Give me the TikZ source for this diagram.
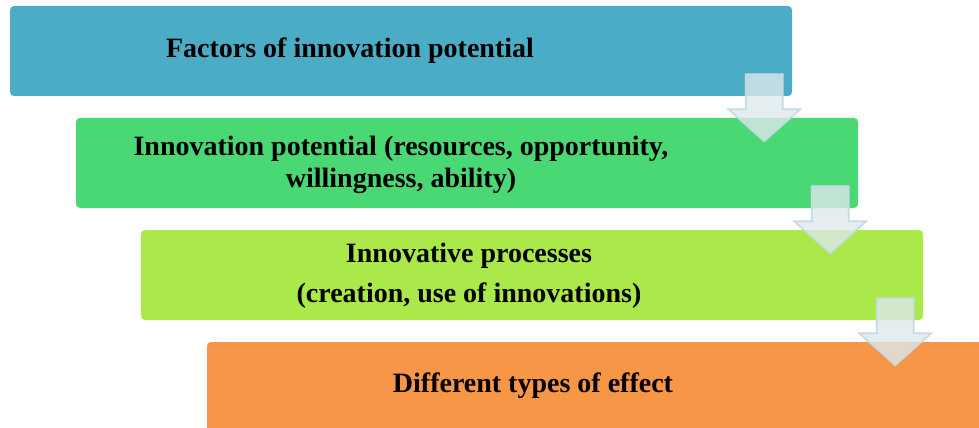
\documentclass[tikz,border=0pt]{standalone}
\usepackage{fontspec}
\setmainfont{Liberation Serif}
\usepackage{xcolor}
\usepackage{tikz}
\usetikzlibrary{positioning}

\definecolor{factblue}{HTML}{4BACC6}
\definecolor{potgreen}{HTML}{4AD874}
\definecolor{proclime}{HTML}{ABE84A}
\definecolor{effectorange}{HTML}{F79646}
\definecolor{arrowfill}{HTML}{DDE8EC}
\definecolor{arrowedge}{HTML}{C6DAE2}

\begin{document}
\begin{tikzpicture}[x=0.75pt, y=-0.75pt,
      box/.style={rectangle, rounded corners=3pt, minimum width=586.5pt, minimum height=67.5pt, inner sep=0pt},
      lbl/.style={font=\fontsize{21}{24}\selectfont\bfseries, align=center, inner sep=0pt},
      downarrow/.style={draw=arrowedge, line width=1.2pt, fill=arrowfill, fill opacity=0.8, line join=miter}
      ]
      \clip (0,0) rectangle (979,428);
      \node[box, fill=factblue] (factors) at (401,51) {};
      \node[box, fill=potgreen] (potential) at (467,163) {};
      \node[box, fill=proclime] (processes) at (532,275) {};
      \node[box, fill=effectorange] (effect) at (598,387) {};

      \foreach \b in {factors, potential, processes}
        \draw[downarrow] ([xshift=-34.9pt, yshift=16.5pt]\b.south east)
          -- ++(0,35) -- ++(-17.5,0) -- ++(36,32) -- ++(36,-32) -- ++(-17.5,0) -- ++(0,-35) -- cycle;

      \node[lbl] (factorstext) at (350,51) {Factors of innovation potential};
      \node[lbl] (potentialtext) at (401,165) {Innovation potential (resources, opportunity,\\ willingness, ability)};
      \node[lbl] (processestext) at (469,276) {Innovative processes\\[6pt] (creation, use of innovations)};
      \node[lbl] (effecttext) at (533,386) {Different types of effect};
    \end{tikzpicture}
\end{document}
